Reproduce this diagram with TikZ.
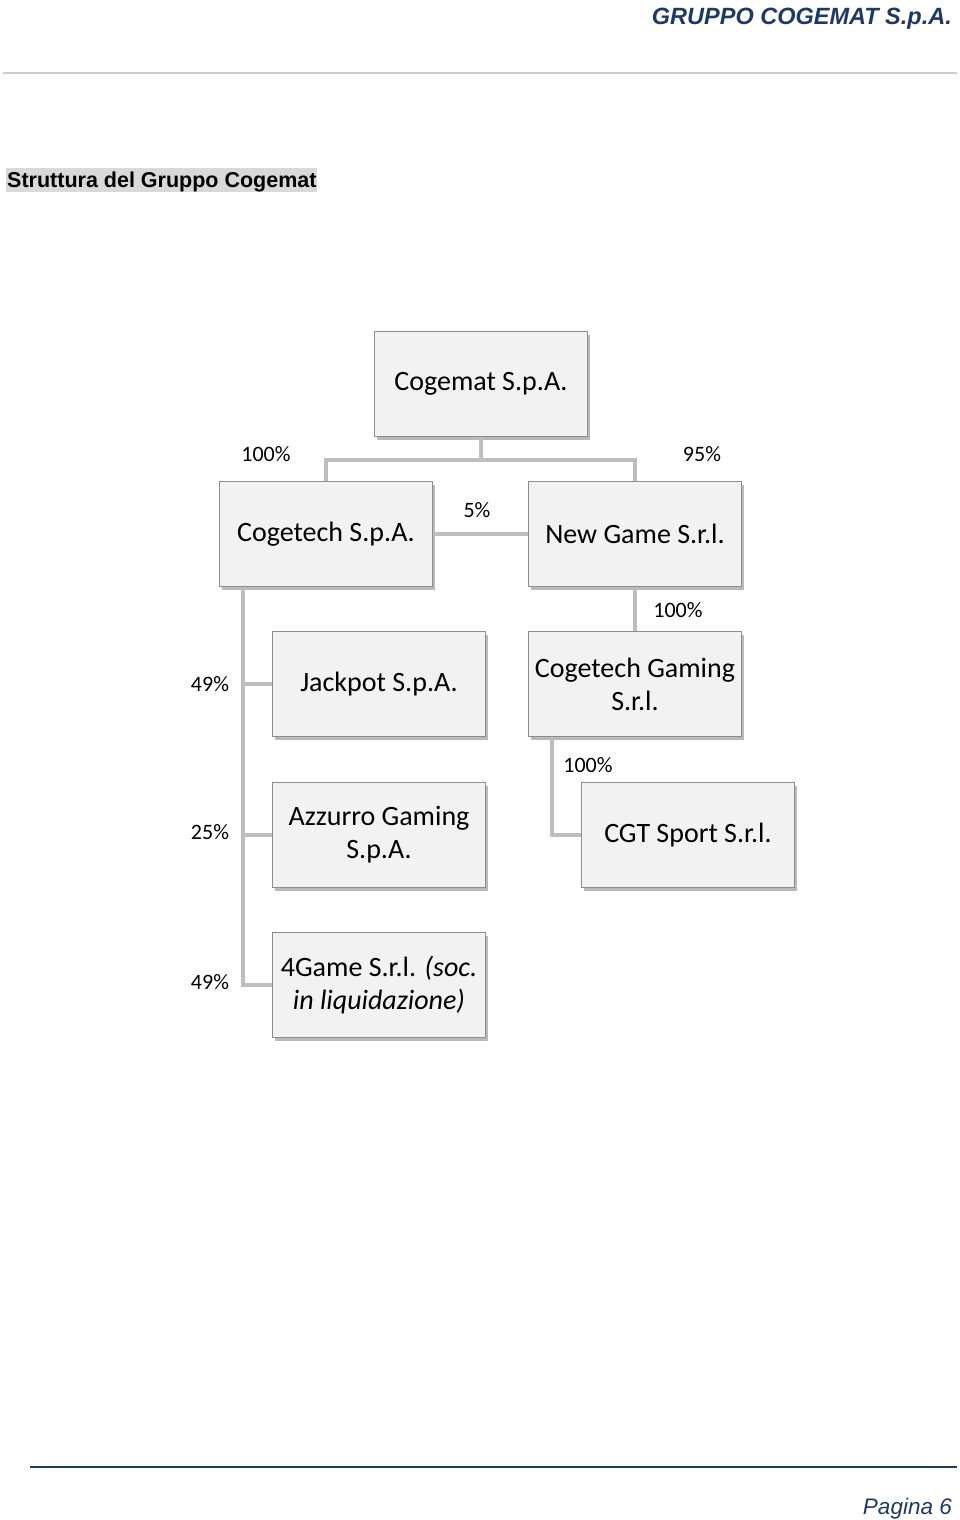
\documentclass[tikz,border=0pt]{standalone}
\usepackage{fontspec}
\setmainfont{Carlito}
\newfontfamily\headfont{Liberation Sans}
\usepackage{tikz}
\usetikzlibrary{positioning, shadows, calc}
\definecolor{headnavy}{RGB}{31, 56, 100}
\definecolor{boxfill}{RGB}{242, 242, 242}
\definecolor{boxline}{RGB}{140, 140, 140}
\definecolor{linkgrey}{RGB}{190, 190, 190}
\definecolor{markgrey}{RGB}{217, 217, 217}

\begin{document}
\begin{tikzpicture}[
    x=1pt, y=-1pt,
    company/.style={rectangle, draw=boxline, fill=boxfill, line width=1pt, align=center, inner sep=2pt,
        minimum width=213pt, minimum height=105pt, font=\fontsize{28}{33}\selectfont,
        drop shadow={shadow xshift=2pt, shadow yshift=-3pt, fill=black!60, opacity=0.45}},
    share/.style={font=\fontsize{22}{24}\selectfont, text=black, inner sep=0pt},
    link/.style={draw=linkgrey, line width=4pt}
]
\useasboundingbox (0,0) rectangle (960,1520);

% page header and footer
\node [anchor=base east, inner sep=0pt, text=headnavy, font=\headfont\fontsize{23.5}{26}\selectfont\bfseries\itshape] (head) at (952,25) {GRUPPO COGEMAT S.p.A.};
\draw [black!20, line width=1pt] (3,73) -- (957,73);
\fill [markgrey] (6,168) rectangle (317,192);
\node [anchor=base west, inner sep=0pt, font=\headfont\fontsize{21.5}{24}\selectfont\bfseries] (title) at (7,187) {Struttura del Gruppo Cogemat};
\draw [headnavy, line width=2pt] (30,1467) -- (957,1467);
\node [anchor=base east, inner sep=0pt, text=headnavy, font=\headfont\fontsize{22.5}{26}\selectfont\itshape] (page) at (952,1514) {Pagina 6};

% companies
\node [company] (cogemat) at (481,384) {Cogemat S.p.A.};
\node [company, below=44pt of cogemat, xshift=-155pt] (cogetech) {Cogetech S.p.A.};
\node [company, right=95pt of cogetech] (newgame) {New Game S.r.l.};
\node [company, below=44pt of newgame] (gaming) {Cogetech Gaming\\S.r.l.};
\node [company, below=44pt of cogetech, xshift=53pt] (jackpot) {Jackpot S.p.A.};
\node [company, below=45pt of jackpot] (azzurro) {Azzurro Gaming\\S.p.A.};
\node [company, below=44pt of azzurro] (fourgame) {4Game S.r.l. \textit{(soc.}\\\textit{in liquidazione)}};
\node [company, below=45pt of gaming, xshift=53pt] (cgt) {CGT Sport S.r.l.};

% links
\coordinate (bar) at (481,460);
\coordinate (spine) at ($(cogetech.south west)+(24,0)$);
\coordinate (spine2) at ($(gaming.south west)+(24,0)$);
\path [link] (cogemat) -- (bar);
\path [link] (cogetech.north) |- (bar) -| (newgame.north);
\path [link] (cogetech) -- (newgame);
\path [link] (newgame) -- (gaming);
\path [link] (spine) |- (fourgame.west);
\path [link] (spine |- jackpot.west) -- (jackpot.west);
\path [link] (spine |- azzurro.west) -- (azzurro.west);
\path [link] (spine2) |- (cgt.west);

% shares
\node [share] (s_cogetech) at (266,454) {100\%};
\node [share] (s_newgame) at (702,454) {95\%};
\node [share] (s_cross) at (477,510) {5\%};
\node [share] (s_gaming) at (678,610) {100\%};
\node [share] (s_jackpot) at (210,684) {49\%};
\node [share] (s_azzurro) at (210,832) {25\%};
\node [share] (s_fourgame) at (210,982) {49\%};
\node [share] (s_cgt) at (588,765) {100\%};

\end{tikzpicture}
\end{document}
